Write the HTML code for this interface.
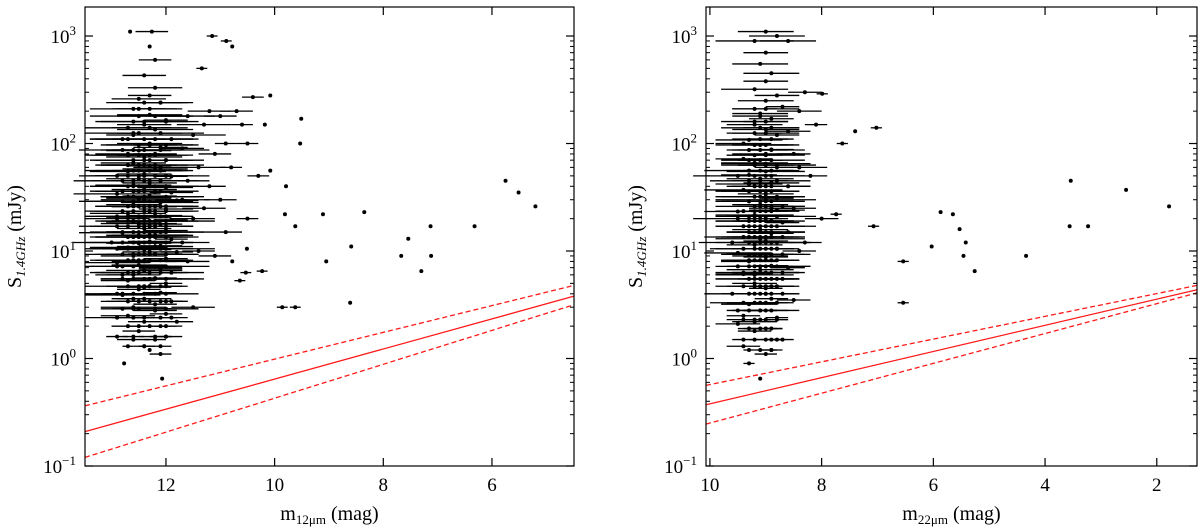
<!DOCTYPE html>
<html><head><meta charset="utf-8"><style>
body{margin:0;background:#fff;}
svg{display:block;font-family:"Liberation Serif",serif;}
</style></head><body>
<svg id="c" width="1200" height="527" viewBox="0 0 1200 527"></svg>
<script>
// Left panel data: [mag, flux mJy, xerr]
const leftCluster = [
[12.3,1.2,0],[12.2,1.5,0.2],[12.5,1.8,0.3],[12.1,2.0,0.4],[12.4,2.2,0.3],[12.7,2.5,0.5],[12.0,2.6,0.3],[12.6,3.0,0.6],[12.2,3.2,0.4],[11.9,3.4,0.3],[12.4,3.6,0.5],[12.8,3.9,0.7],[12.1,4.1,0.3],[12.5,4.4,0.4],[12.3,4.7,0.6],[12.0,5.0,0.3],[12.7,5.3,0.5],[12.2,5.6,0.4],[12.6,6.0,0.5],[11.9,6.3,0.3],[12.4,6.6,0.7],[12.1,7.0,0.4],[12.5,7.4,0.5],[12.9,7.8,0.6],[12.3,8.1,0.3],[12.0,8.5,0.4],[12.6,9.0,0.6],[12.2,9.4,0.5],[11.8,9.8,0.3],[12.4,10.3,0.5],[12.7,10.8,0.7],[12.1,11.2,0.4],[12.5,11.8,0.6],[12.3,12.3,0.4],[11.9,12.9,0.3],[12.6,13.5,0.5],[12.2,14.1,0.6],[12.8,14.8,0.8],[12.0,15.5,0.4],[12.4,16.2,0.5],[12.3,17.0,0.7],[12.1,17.8,0.4],[12.6,18.6,0.5],[11.9,19.5,0.3],[12.5,20.4,0.6],[12.2,21.4,0.5],[12.7,22.4,0.7],[12.3,23.5,0.4],[12.0,24.6,0.5],[12.4,25.8,0.6],[12.6,27,0.5],[12.1,28.3,0.7],[11.8,29.6,0.4],[12.5,31,0.6],[12.3,32.5,0.5],[12.9,34,0.8],[12.2,35.6,0.4],[12.4,37.3,0.6],[12.0,39,0.5],[12.6,41,0.7],[12.3,43,0.5],[12.1,45,0.4],[12.5,47,0.6],[11.9,49.5,0.3],[12.4,52,0.5],[12.7,55,0.7],[12.2,58,0.6],[12.3,62,0.4],[12.6,66,0.6],[12.0,70,0.5],[12.4,75,0.7],[12.2,80,0.4],[12.5,86,0.6],[12.1,92,0.5],[12.3,100,0.6],[11.9,110,0.4],[12.6,120,0.5],[12.2,135,0.7],[12.4,150,0.5],[12.0,165,0.4],[12.3,185,0.6],[12.5,210,0.5],[12.1,240,0.6],[12.3,280,0.4],[12.2,330,0.5],[12.4,430,0.4],[12.2,600,0.3],[12.3,800,0],
[11.6,180,0.5],[11.5,120,0.6],[11.7,90,0.4],[11.4,60,0.5],[11.6,45,0.4],[11.7,30,0.5],[11.5,20,0.4],[11.7,12,0.5],[11.6,8,0.4],[11.5,3,0.4],[11.8,2.2,0.3],[11.2,200,0.4],[11.3,150,0.5],[11.1,80,0.3],[11.2,40,0.3],[11.3,25,0.4],[11.4,10,0.3],[11.0,180,0.3],[10.9,100,0.2],[10.8,60,0.2],[11.0,30,0.3],[10.7,200,0.3],[10.5,100,0.2],[10.6,150,0.2],[10.4,270,0.2],[10.3,50,0.2],[10.5,20,0.2],[10.9,15,0.3],[11.1,9,0.3],
[12.9,20,0.6],[13.0,12,0.5],[12.9,50,0.7],[12.8,6,0.5],[12.6,1.5,0.3],[12.4,1.3,0.2],[12.1,1.1,0.2],[12.0,1.6,0.3],[12.7,80,0.6],[12.8,110,0.6],[12.5,260,0.5],[12.6,40,0.6],[12.1,60,0.5],[11.9,35,0.4],[12.0,21,0.4],[12.2,17,0.6],[12.5,14,0.5],[12.3,9.8,0.5],[12.1,6.8,0.4],[12.4,4.6,0.5],[12.6,3.6,0.4],[12.2,2.8,0.4],[12.0,40,0.5],[12.4,30,0.8],[12.1,26,0.7],[12.5,18,0.7],[12.3,14,0.8],[12.2,11,0.7],[12.4,8,0.6]
];
// dense rows: [flux, mag, xerr, mag, xerr, ...]
const leftDenseRows = [
[1.3,12.4,.1,12.1,.2,12.7,.1],[1.6,12.2,.3,12.6,.2,12.0,.1,12.9,.2],[2,12.3,.4,12.7,.3,12.0,.2,12.5,.5],[2.4,12.1,.3,12.6,.4,12.9,.6,12.4,.2,11.9,.3],[2.9,12.5,.5,12.2,.3,12.8,.4,12.0,.6,12.6,.3],[3.4,12.3,.6,12.7,.4,12.0,.3,12.5,.7,12.1,.5],[4,12.4,.5,12.8,.7,12.2,.4,12.0,.6,12.6,.5,12.9,.3],[4.7,12.3,.6,12.1,.5,12.7,.8,12.5,.4,12.0,.3,12.4,.7],[5.5,12.6,.6,12.2,.5,12.8,.4,12.0,.7,12.4,.5,12.3,.9],[6.3,12.5,.7,12.1,.4,12.7,.6,12.3,.5,11.9,.6,12.6,.8],[7.2,12.4,.6,12.8,.7,12.2,.5,12.0,.8,12.6,.4,12.3,.6,12.9,.5],[8.2,12.3,.7,12.7,.5,12.1,.6,12.5,.9,12.0,.4,12.4,.6,12.6,.7],[9.3,12.5,.6,12.2,.8,12.8,.5,12.0,.6,12.4,.7,12.6,.9,12.3,.5],[10.5,12.4,.8,12.1,.6,12.7,.7,12.3,.5,12.9,.6,12.0,.9,12.5,.4],[12,12.3,.7,12.6,.8,12.0,.5,12.4,.6,12.8,.9,12.2,.7,12.5,.5],[13.5,12.5,.8,12.2,.6,12.7,.7,12.4,.9,12.0,.6,12.3,.5,12.6,.7],[15,12.4,.7,12.1,.9,12.8,.6,12.3,.8,12.6,.5,12.0,.7,12.5,.6],[17,12.3,.8,12.7,.6,12.2,.7,12.5,.9,12.0,.5,12.4,.6,12.9,.7],[19,12.6,.7,12.2,.8,12.4,.6,12.0,.9,12.7,.5,12.3,.7],[21,12.4,.9,12.1,.6,12.7,.8,12.5,.7,12.2,.5,12.9,.6],[23.5,12.3,.7,12.6,.8,12.0,.6,12.4,.9,12.8,.7,12.2,.5],[26,12.5,.8,12.2,.7,12.7,.6,12.3,.9,12.0,.5,12.6,.7],[29,12.4,.7,12.8,.8,12.1,.6,12.5,.9,12.3,.5,12.6,.6],[32,12.3,.9,12.6,.6,12.0,.7,12.4,.8,12.7,.5],[36,12.5,.7,12.2,.8,12.8,.6,12.4,.9,12.1,.5,12.6,.7],[40,12.3,.8,12.7,.7,12.0,.6,12.5,.9,12.2,.7],[45,12.4,.6,12.6,.8,12.1,.7,12.8,.9,12.3,.5],[50,12.5,.8,12.2,.6,12.7,.7,12.4,.9,12.0,.8],[56,12.3,.7,12.6,.9,12.1,.6,12.5,.8],[63,12.4,.8,12.7,.6,12.2,.9,12.5,.7],[70,12.3,.6,12.6,.8,12.0,.7,12.4,.9],[78,12.5,.9,12.2,.7,12.7,.8,12.3,.6],[87,12.4,.7,12.6,.6,12.1,.9,12.8,.8],[97,12.3,.8,12.5,.7,12.0,.6],[110,12.4,.9,12.7,.7,12.2,.8],[125,12.5,.6,12.1,.8,12.6,.9],[140,12.3,.7,12.7,.8],[160,12.4,.8,12.0,.6,12.6,.7],[180,12.5,.9,12.2,.7],[210,12.3,.6,12.6,.8],[240,12.4,.7,12.1,.5]
];
const leftOutliers = [
[12.66,1100,0],[12.26,1100,0.3],[11.15,1000,0.1],[10.89,900,0.1],[10.78,800,0],[11.34,500,0.1],[10.08,280,0],[10.18,150,0],[9.51,170,0],[9.53,100,0],[10.08,56,0],[9.79,40,0],[9.81,22,0],[9.11,22,0],[8.35,23,0],[9.62,17,0],[8.59,11,0],[9.05,8,0],[7.54,13,0],[7.13,17,0],[6.32,17,0],[5.75,45,0],[5.51,35,0],[5.2,26,0],[7.12,9,0],[7.3,6.5,0],[7.67,9,0],[9.86,3,0.1],[9.62,3,0.1],[8.61,3.3,0],[10.23,6.5,0.1],[10.53,6.3,0.1],[10.64,5.3,0.1],[10.51,10.5,0],[10.78,8,0],[12.07,0.65,0],[12.77,0.9,0]
];
const rightCluster = [
[9.1,0.65,0],[9.3,0.9,0.1],[9.0,1.1,0.2],[9.4,1.3,0.3],[8.9,1.5,0.2],[9.2,1.8,0.3],[9.5,2.1,0.4],[8.8,2.4,0.2],[9.1,2.8,0.3],[9.3,3.2,0.5],[8.9,3.6,0.3],[9.6,4.0,0.5],[9.0,4.5,0.3],[9.2,5.0,0.4],[8.7,5.5,0.3],[9.4,6.1,0.5],[9.1,6.7,0.6],[8.9,7.3,0.3],[9.3,8.0,0.5],[9.0,8.8,0.4],[9.5,9.6,0.6],[8.8,10.5,0.3],[9.2,11.4,0.5],[9.0,12.4,0.4],[9.4,13.5,0.7],[8.9,14.6,0.4],[9.1,15.8,0.5],[9.3,17,0.6],[8.7,18.4,0.3],[9.0,20,0.4],[9.2,21.6,0.7],[9.5,23.3,0.6],[8.9,25,0.4],[9.1,27,0.5],[9.3,29,0.6],[8.8,31,0.3],[9.0,34,0.5],[9.4,37,0.7],[9.2,40,0.4],[8.9,43,0.5],[9.1,47,0.6],[9.3,51,0.5],[9.0,55,0.7],[8.8,60,0.4],[9.2,66,0.6],[9.4,72,0.5],[9.0,80,0.6],[8.9,88,0.4],[9.1,97,0.5],[9.3,108,0.6],[8.8,120,0.4],[9.0,135,0.6],[9.2,150,0.5],[8.9,170,0.4],[9.1,190,0.5],[8.7,220,0.3],[9.0,250,0.5],[8.8,280,0.4],[9.2,320,0.6],[9.0,380,0.4],[8.9,450,0.5],[9.1,550,0.5],[9.0,700,0.4],[9.2,900,0.7],[8.6,900,0.5],[8.8,1000,0.5],[9.0,1100,0.5],[8.6,130,0.4],[8.5,80,0.3],[8.4,60,0.5],[8.6,40,0.4],[8.5,25,0.4],[8.6,15,0.3],[8.4,10,0.3],[8.6,7,0.3],[8.5,3.5,0.3],[8.7,1.5,0.2],[9.4,2.5,0.3],[9.5,20,0.8],[9.5,50,0.8],[9.6,12,0.6],[9.4,100,0.5],[8.3,300,0.3],[8.2,50,0.3],[8.1,150,0.2],[8.0,20,0.3],[8.3,12,0.3],[8.4,200,0.4],[9.1,13,0.8],[9.0,30,0.9],[9.2,6,0.7],[8.9,19,0.6],[9.1,9,0.5],[9.0,4,0.5],[9.3,42,0.6],[8.8,24,0.5],[9.0,65,0.8],[9.2,2.2,0.4],[8.9,1.2,0.2]
];
const rightDenseRows = [
[1.2,9.1,.1,9.3,.1,8.9,.1],[1.5,9.0,.2,9.2,.1,9.4,.2,8.8,.1],[1.9,9.1,.3,8.9,.2,9.3,.2,9.0,.3],[2.3,9.2,.3,9.0,.4,8.8,.2,9.4,.3,9.1,.2],[2.8,9.0,.4,9.3,.3,8.9,.5,9.1,.3,9.5,.2],[3.3,9.2,.5,8.8,.3,9.0,.4,9.4,.6,9.1,.3],[4,9.1,.4,9.3,.5,8.9,.3,9.0,.6,9.2,.4,8.7,.3],[4.7,9.0,.5,9.2,.3,8.8,.4,9.4,.5,9.1,.6,8.9,.4],[5.5,9.1,.4,9.3,.6,8.9,.5,9.0,.3,9.2,.7,8.8,.4],[6.3,9.0,.6,9.2,.4,8.9,.5,9.4,.5,9.1,.3,8.7,.4],[7.2,9.1,.5,9.3,.4,8.8,.6,9.0,.5,9.2,.3,8.9,.7,9.5,.4],[8.2,9.0,.4,9.2,.6,8.9,.5,9.1,.7,9.3,.4,8.8,.3],[9.3,9.1,.6,8.9,.4,9.3,.5,9.0,.7,9.2,.4,8.7,.5],[10.5,9.0,.5,9.2,.7,8.8,.4,9.1,.5,9.4,.6,8.9,.3],[12,9.1,.4,9.3,.6,8.9,.7,9.0,.5,9.2,.4,8.8,.6],[13.5,9.0,.6,9.2,.5,8.9,.4,9.1,.8,9.3,.5,8.7,.4],[15,9.1,.5,8.9,.6,9.3,.4,9.0,.7,9.2,.5],[17,9.0,.7,9.2,.4,8.8,.5,9.1,.6,9.4,.5,8.9,.8],[19,9.1,.5,9.3,.6,8.9,.4,9.0,.5,9.2,.7],[21,9.0,.6,9.2,.5,8.8,.7,9.1,.4,9.3,.6],[23.5,9.1,.7,8.9,.5,9.2,.6,9.0,.4,9.4,.5],[26,9.0,.5,9.2,.7,8.9,.6,9.1,.5,8.7,.4],[29,9.1,.6,9.3,.5,8.9,.4,9.0,.7],[32,9.0,.5,9.2,.6,8.8,.5,9.1,.8],[36,9.1,.7,8.9,.5,9.3,.6,9.0,.4],[40,9.0,.6,9.2,.5,8.9,.7,9.1,.4],[45,9.1,.5,9.3,.7,8.8,.6],[50,9.0,.7,9.2,.5,8.9,.4],[56,9.1,.6,8.9,.5,9.3,.8],[63,9.0,.5,9.2,.6,8.8,.7],[70,9.1,.4,8.9,.6,9.3,.5],[78,9.0,.7,9.2,.5],[87,9.1,.5,8.9,.6,9.3,.4],[97,9.0,.6,9.2,.7],[110,9.1,.5,8.9,.4],[125,9.0,.6,9.2,.5],[140,9.1,.7,8.9,.5],[160,9.0,.4,9.2,.6],[180,9.1,.5],[210,9.0,.6,9.2,.4]
];
const rightOutliers = [
[7.02,140,0.1],[7.4,130,0],[7.99,290,0.1],[7.63,100,0.1],[7.74,22,0.1],[7.07,17,0.1],[5.87,23,0],[5.65,22,0],[6.03,11,0],[5.53,16,0],[5.42,12,0],[5.46,9,0],[5.26,6.5,0],[6.54,8,0.1],[6.54,3.3,0.1],[4.34,9,0],[3.54,45,0],[3.56,17,0],[3.23,17,0],[2.55,37,0],[1.78,26,0]
];
// limit lines: log10 flux at [left mag, right mag]
const leftLineMags = [13.49, 4.49];
const leftLines = {upper:[-0.44,0.68], mid:[-0.68,0.58], lower:[-0.92,0.50]};
const rightLineMags = [10.07, 1.28];
const rightLines = {upper:[-0.25,0.68], mid:[-0.43,0.64], lower:[-0.61,0.61]};
const leftXTicks = [12,10,8,6];
const rightXTicks = [10,8,6,4,2];
const yTickExps = [-1,0,1,2,3];

function expandRows(rows){
  const out=[];
  rows.forEach(r=>{for(let i=1;i+1<r.length;i+=2) out.push([r[i],r[0],r[i+1]]);});
  return out;
}

const svg = document.getElementById('c');
const NS = 'http://www.w3.org/2000/svg';
function mk(tag, attrs, parent){const e=document.createElementNS(NS,tag);for(const k in attrs)e.setAttribute(k,attrs[k]);(parent||svg).appendChild(e);return e;}

function panel(cfg){
  const g = mk('g',{});
  
  
  const {x0,x1,y0,y1,mLeft,mRight} = cfg;
  const X = m => x0 + (mLeft - m)/(mLeft - mRight)*(x1-x0);
  const Y = s => y1 - (Math.log10(s) + 1)/(4.27)*(y1-y0);
  const YL = l => y1 - (l + 1)/(4.27)*(y1-y0);
  const pg = mk('g',{},g);
  
  
  cfg.data.forEach(d=>{
    const cx=X(d[0]), cy=Y(d[1]);
    if(d[2]>0){
      const l=mk('line',{x1:X(d[0]+d[2]),x2:X(d[0]-d[2]),y1:cy,y2:cy,stroke:'#000','stroke-width':1.3},pg);
      
      
    }
    const c=mk('circle',{cx:cx,cy:cy,r:2,fill:'#000'},pg);
    
    
  });
  for(const k in cfg.lines){
    const v=cfg.lines[k];
    const ln=mk('line',{x1:X(cfg.lineMags[0]),x2:X(cfg.lineMags[1]),y1:YL(v[0]),y2:YL(v[1]),stroke:'#ff1a1a','stroke-width':1.3},g);
    if(k!=='mid') ln.setAttribute('stroke-dasharray','5,3');
    
    
  }
  const f=mk('rect',{x:x0,y:y0,width:x1-x0,height:y1-y0,fill:'none',stroke:'#000','stroke-width':1.2},g);
  
  
  yTickExps.forEach(e=>{
    const y=Y(Math.pow(10,e));
    mk('line',{x1:x0,x2:x0+8,y1:y,y2:y,stroke:'#000','stroke-width':1.2},g);
    mk('line',{x1:x1,x2:x1-8,y1:y,y2:y,stroke:'#000','stroke-width':1.2},g);
    const t=mk('text',{x:x0-9,y:y+7,'text-anchor':'end','font-size':19},g);
    
    
    t.textContent='10';
    const s=mk('tspan',{dy:-8,'font-size':13},t); s.textContent=String(e).replace('-','−');
    for(let m=2;m<=9;m++){
      const v=Math.pow(10,e)*m; if(Math.log10(v)>3.27) break;
      const yy=Y(v);
      mk('line',{x1:x0,x2:x0+4,y1:yy,y2:yy,stroke:'#000','stroke-width':1},g);
      mk('line',{x1:x1,x2:x1-4,y1:yy,y2:yy,stroke:'#000','stroke-width':1},g);
    }
  });
  cfg.xTicks.forEach(m=>{
    const x=X(m);
    mk('line',{x1:x,x2:x,y1:y1,y2:y1-8,stroke:'#000','stroke-width':1.2},g);
    mk('line',{x1:x,x2:x,y1:y0,y2:y0+8,stroke:'#000','stroke-width':1.2},g);
    const t=mk('text',{x:x,y:y1+25,'text-anchor':'middle','font-size':19},g);
    
    
    t.textContent=m;
  });
  const xt=mk('text',{x:(x0+x1)/2,y:y1+54,'text-anchor':'middle','font-size':20},g);
  
  
  xt.textContent='m';
  const sx=mk('tspan',{dy:4,'font-size':13},xt); sx.textContent=cfg.band;
  const sx2=mk('tspan',{dy:-4},xt); sx2.textContent=' (mag)';
  const cy=(y0+y1)/2, tx=x0-64;
  const yt=mk('text',{x:tx,y:cy,'text-anchor':'middle','font-size':20,transform:`rotate(-90 ${tx} ${cy})`},g);
  
  
  yt.textContent='S';
  const sy=mk('tspan',{dy:4,'font-size':13,'font-style':'italic'},yt); sy.textContent='1.4GHz';
  const sy2=mk('tspan',{dy:-4},yt); sy2.textContent=' (mJy)';
}
panel({name:'left-panel',x0:85,x1:574,y0:7,y1:466,mLeft:13.49,mRight:4.49,data:leftCluster.concat(expandRows(leftDenseRows),leftOutliers),lines:leftLines,lineMags:leftLineMags,xTicks:leftXTicks,band:'12μm'});
panel({name:'right-panel',x0:706,x1:1197,y0:7,y1:466,mLeft:10.07,mRight:1.28,data:rightCluster.concat(expandRows(rightDenseRows),rightOutliers),lines:rightLines,lineMags:rightLineMags,xTicks:rightXTicks,band:'22μm'});
</script>
</body></html>
